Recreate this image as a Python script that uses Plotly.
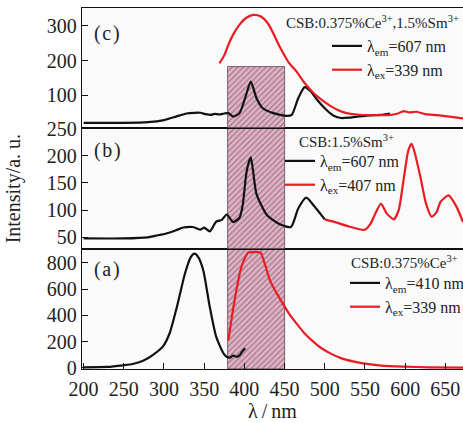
import plotly.graph_objects as go

# ---------------- data ----------------
# panel (c): CSB:0.375%Ce3+,1.5%Sm3+
c_em_x = [200, 250, 280, 300, 315, 328, 338, 345, 352, 358, 363, 369, 375, 380, 386, 394, 401, 408, 415, 423, 436, 453, 459, 467, 475, 482, 490, 500, 510, 520, 530, 540, 550, 560, 570, 581]
c_em_y = [20, 20, 22, 28, 38, 47, 49, 49, 45, 43, 46, 44, 47, 48, 38, 48, 92, 139, 92, 62, 48, 40, 43, 91, 123, 112, 88, 62, 42, 34, 35, 38, 40, 42, 43, 47]
c_ex_x = [369, 375, 380, 386, 394, 402, 411, 420, 430, 444, 455, 465, 475, 486, 497, 507, 517, 527, 540, 555, 569, 580, 590, 598, 605, 614, 625, 640, 655, 672]
c_ex_y = [192, 215, 245, 275, 304, 323, 332, 328, 305, 240, 195, 168, 135, 106, 85, 69, 56, 48, 44, 42, 42, 42, 46, 54, 50, 52, 45, 42, 38, 33]

# panel (b): CSB:1.5%Sm3+
b_em_x = [200, 250, 280, 290, 303, 315, 324, 336, 345, 350, 357, 365, 372, 378, 386, 394, 398, 403, 408, 415, 428, 444, 458, 467, 477, 486, 500]
b_em_y = [48, 48, 50, 53, 57, 63, 68, 69, 64, 68, 61, 79, 82, 92, 78, 86, 110, 173, 197, 130, 91, 74, 69, 103, 123, 109, 83]
b_ex_x = [500, 515, 530, 550, 557, 563, 570, 577, 586, 592, 598, 604, 608, 612, 619, 626, 633, 639, 644, 654, 664, 672]
b_ex_y = [83, 77, 70, 64, 75, 94, 112, 94, 83, 100, 155, 210, 222, 205, 161, 112, 88, 96, 115, 127, 106, 78]

# panel (a): CSB:0.375%Ce3+
a_em_x = [200, 230, 249, 261, 274, 286, 299, 307, 316, 326, 333, 338, 343, 349, 357, 365, 374, 378, 382, 386, 390, 394, 398, 401]
a_em_y = [5, 8, 20, 30, 55, 98, 166, 264, 463, 717, 840, 870, 840, 740, 463, 236, 111, 85, 78, 95, 85, 95, 130, 150]
a_ex_x = [380, 382, 386, 390, 395, 399, 403, 405, 412, 420, 426, 432, 440, 448, 456, 465, 475, 486, 496, 507, 520, 535, 548, 570, 598, 630, 672]
a_ex_y = [211, 290, 450, 589, 740, 815, 865, 878, 882, 878, 780, 664, 570, 488, 410, 337, 262, 199, 150, 111, 75, 50, 35, 18, 10, 5, 2]

# legend labels
c_names = ["λ<sub>em</sub>=607 nm", "λ<sub>ex</sub>=339 nm"]
b_names = ["λ<sub>em</sub>=607 nm", "λ<sub>ex</sub>=407 nm"]
a_names = ["λ<sub>em</sub>=410 nm", "λ<sub>ex</sub>=339 nm"]

# hatched region (nm) and its top on the panel-(c) scale
hatch_x0, hatch_x1 = 380, 450
hatch_top_c = 182

x_range = [198, 672]
x_ticks = [200, 250, 300, 350, 400, 450, 500, 550, 600, 650]
ya_range, ya_ticks = [-8, 903], [0, 200, 400, 600, 800]
yb_range, yb_ticks = [28, 251], [50, 100, 150, 200, 250]
yc_range, yc_ticks = [5, 352], [100, 200, 300]

BLACK = "#111111"
RED = "#e81c22"
TXT = "#222222"
FONT = "'Liberation Serif', 'Times New Roman', 'DejaVu Serif', serif"

fig = go.Figure()

hx = [(hatch_x0 + hatch_x1) / 2]
hw = [hatch_x1 - hatch_x0]
def hatch(xa, ya, base, top):
    fig.add_trace(go.Bar(
        x=hx, y=[top - base], base=[base], width=hw, xaxis=xa, yaxis=ya,
        marker=dict(color="#e0b2c4", line=dict(color="#5e4150", width=0.8),
                    pattern=dict(shape="/", size=4, solidity=0.25,
                                 fgcolor="#3d2434", fillmode="overlay")),
        showlegend=False, hoverinfo="skip"))

hatch("x", "y", ya_range[0], ya_range[1])
hatch("x2", "y2", yb_range[0], yb_range[1])
hatch("x3", "y3", yc_range[0], hatch_top_c)

def line(x, y, xa, ya, col, name, leg):
    fig.add_trace(go.Scatter(x=x, y=y, xaxis=xa, yaxis=ya, mode="lines", name=name,
                             line=dict(color=col, width=2.2, shape="spline", smoothing=0.6),
                             showlegend=True, legend=leg, hoverinfo="skip"))

line(c_em_x, c_em_y, "x3", "y3", BLACK, c_names[0], "legend")
line(c_ex_x, c_ex_y, "x3", "y3", RED, c_names[1], "legend")
line(b_em_x, b_em_y, "x2", "y2", BLACK, b_names[0], "legend2")
line(b_ex_x, b_ex_y, "x2", "y2", RED, b_names[1], "legend2")
line(a_em_x, a_em_y, "x", "y", BLACK, a_names[0], "legend3")
line(a_ex_x, a_ex_y, "x", "y", RED, a_names[1], "legend3")

# geometry helpers (pixel -> paper)
L, T, W, H = 82, 8, 381, 361
def px(x):
    return (x - L) / W
def py(y):
    return (T + H - y) / H

anns = []
def txt(x, y, s, size=15, color=TXT):
    anns.append(dict(x=px(x), y=py(y), xref="paper", yref="paper", text=s,
                     showarrow=False, xanchor="left", yanchor="middle",
                     font=dict(family=FONT, size=size, color=color)))

txt(92, 33, "(\u200ac\u200a)", size=20)
txt(284, 22, "CSB:0.375%Ce<sup>3+</sup>,1.5%Sm<sup>3+</sup>")
txt(92, 150, "(\u200ab\u200a)", size=20)
txt(297, 141, "CSB:1.5%Sm<sup>3+</sup>")
txt(92, 269, "(\u200aa\u200a)", size=20)
txt(349, 262, "CSB:0.375%Ce<sup>3+</sup>")

legfont = dict(family=FONT, size=16, color=TXT)
def legend_at(x, y):
    return dict(x=px(x), y=py(y), xref="paper", yref="paper", xanchor="left",
                yanchor="top", bgcolor="rgba(0,0,0,0)", font=legfont,
                itemwidth=30, tracegroupgap=0, borderwidth=0)

axfont = dict(family=FONT, size=20, color=TXT)
common_x = dict(range=x_range, showline=True, linecolor=BLACK, linewidth=1.3,
                mirror=True, showgrid=False, zeroline=False)
common_y = dict(showline=True, linecolor=BLACK, linewidth=1.3, showgrid=False,
                zeroline=False, ticks="inside", ticklen=6, tickcolor=BLACK,
                tickfont=axfont)

fig.update_layout(
    width=463, height=423,
    margin=dict(l=L, r=0, t=T, b=423 - T - H, autoexpand=False),
    paper_bgcolor="white", plot_bgcolor="#fafafa",
    bargap=0, showlegend=True,
    font=dict(family=FONT, color=TXT),
    annotations=anns,
    legend=legend_at(327, 29),
    legend2=legend_at(280, 144),
    legend3=legend_at(345, 266),
    xaxis=dict(**common_x, anchor="y", tickvals=x_ticks, ticks="inside",
               ticklen=6, tickcolor=BLACK, tickfont=axfont, ticklabelstandoff=2,
               title=dict(text="λ\u2009/\u2009nm", font=axfont, standoff=4)),
    yaxis=dict(**common_y, domain=[0, py(249.3)], range=ya_range, tickvals=ya_ticks),
    xaxis2=dict(**common_x, anchor="y2", showticklabels=False, ticks=""),
    yaxis2=dict(**common_y, domain=[py(249.3), py(128)], range=yb_range, tickvals=yb_ticks,
                title=dict(text="Intensity/a. u.", font=dict(family=FONT, size=20, color=TXT),
                           standoff=20)),
    xaxis3=dict(**common_x, anchor="y3", showticklabels=False, ticks=""),
    yaxis3=dict(**common_y, domain=[py(128), 1], range=yc_range, tickvals=yc_ticks),
)

fig.write_html("out.html")
